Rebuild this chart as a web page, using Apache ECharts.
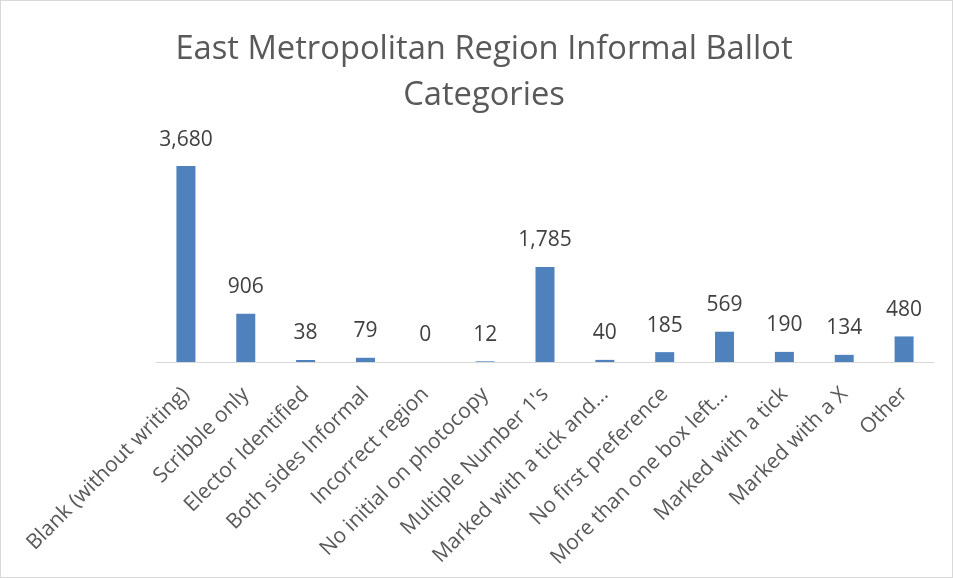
<!DOCTYPE html>
<html><head><meta charset="utf-8">
<script src="https://cdn.jsdelivr.net/npm/echarts@6/dist/echarts.min.js"></script>
<style>html,body{margin:0;padding:0;background:#fff}#c{width:953px;height:578px;box-sizing:border-box;border:1px solid #d9d9d9}</style>
</head><body><div id="c"></div>
<script>
const categories = ["Blank (without writing)","Scribble only","Elector Identified","Both sides Informal","Incorrect region","No initial on photocopy","Multiple Number 1's","Marked with a tick and...","No first preference","More than one box left...","Marked with a tick","Marked with a X","Other"];
const values = [3680,906,38,79,0,12,1785,40,185,569,190,134,480];
const titleText = "East Metropolitan Region Informal Ballot\nCategories";
const chart = echarts.init(document.getElementById('c'));
chart.setOption({
  animation:false,
  title:{text:titleText,left:478,textAlign:'center',top:21,textStyle:{fontFamily:'Open Sans',fontWeight:'normal',fontSize:32.7,color:'#595959',lineHeight:46}},
  grid:{left:155,right:18,top:148,bottom:215,containLabel:false},
  xAxis:{type:'category',data:categories,axisLine:{lineStyle:{color:'#d9d9d9',width:1}},axisTick:{show:false},
    axisLabel:{interval:0,rotate:45,fontFamily:'Open Sans',fontSize:21,color:'#595959',margin:29}},
  yAxis:{type:'value',min:0,max:4000,show:false,splitLine:{show:false}},
  series:[{type:'bar',data:values,barWidth:19,itemStyle:{color:'#4f81bd'},
    label:{show:true,position:'top',distance:16,fontFamily:'Open Sans',fontSize:21,color:'#404040',
      formatter:p=>p.value.toLocaleString('en-US')}}]
});
</script></body></html>
